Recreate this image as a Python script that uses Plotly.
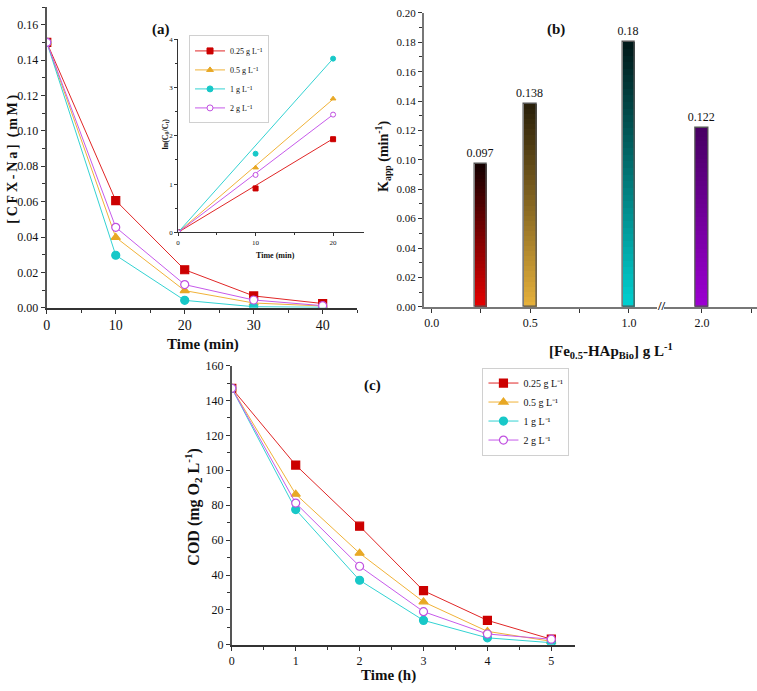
import plotly.graph_objects as go

W, H = 757, 691
FONT = "Liberation Serif"

# ---------------- data ----------------
# (a) CFX-Na concentration vs time
time_a = [0, 10, 20, 30, 40]
conc_025 = [0.150, 0.0606, 0.0215, 0.0067, 0.0024]
conc_05 = [0.150, 0.0398, 0.0097, 0.0027, 0.0010]
conc_1 = [0.150, 0.0297, 0.0042, 0.0006, 0.0003]
conc_2 = [0.150, 0.0455, 0.0131, 0.0044, 0.0012]

# (a) inset: ln(C0/Ct) vs time
time_inset = [0, 10, 20]
ln_025 = [0, 0.91, 1.93]
ln_05 = [0, 1.34, 2.77]
ln_1 = [0, 1.63, 3.60]
ln_2 = [0, 1.19, 2.44]
fit_time = [0, 20]

# (b) apparent rate constants
dose = [0.25, 0.5, 1.0, 2.0]
kapp = [0.097, 0.138, 0.18, 0.122]

# (c) COD vs time
time_c = [0, 1, 2, 3, 4, 5]
cod_025 = [147, 103, 68, 31, 14, 3.2]
cod_05 = [147, 86.3, 52.5, 24.6, 7.7, 2.0]
cod_1 = [147, 77.5, 37, 14, 4, 1.2]
cod_2 = [147, 81.2, 45, 19, 6.2, 3.2]

series_names = ["0.25 g L\u207b\u00b9", "0.5 g L\u207b\u00b9", "1 g L\u207b\u00b9", "2 g L\u207b\u00b9"]

# ---------------- styles ----------------
line_cols = ["#E02626", "#F0B238", "#33D2D2", "#C65AEA"]
fill_cols = ["#CC0000", "#E8A825", "#18C8C8", "#FFFFFF"]
edge_cols = ["#CC0000", "#E8A825", "#18C8C8", "#C050E0"]
symbols = ["square", "triangle-up", "circle", "circle"]
bar_top = [(22, 0, 0), (42, 32, 10), (0, 26, 26), (72, 0, 100)]
bar_bot = [(232, 0, 0), (234, 180, 60), (0, 212, 212), (158, 0, 212)]


def px(x):
    return x / W


def py(y):
    return 1 - y / H


fig = go.Figure()

conc = [conc_025, conc_05, conc_1, conc_2]
lns = [ln_025, ln_05, ln_1, ln_2]
cods = [cod_025, cod_05, cod_1, cod_2]

# (a) main
for i in range(4):
    fig.add_trace(go.Scatter(
        x=time_a, y=conc[i], mode="lines+markers", xaxis="x", yaxis="y",
        line=dict(color=line_cols[i], width=1),
        marker=dict(symbol=symbols[i], size=8, color=fill_cols[i],
                    line=dict(color=edge_cols[i], width=1.2)),
        showlegend=False, name=series_names[i]))

# (a) inset: fit lines + data markers + legend entries
for i in range(4):
    fig.add_trace(go.Scatter(
        x=fit_time, y=[kapp[i] * t for t in fit_time], mode="lines",
        xaxis="x2", yaxis="y2", line=dict(color=line_cols[i], width=1),
        showlegend=False, hoverinfo="skip"))
    fig.add_trace(go.Scatter(
        x=time_inset, y=lns[i], mode="markers", xaxis="x2", yaxis="y2",
        marker=dict(symbol=symbols[i], size=5, color=fill_cols[i],
                    line=dict(color=edge_cols[i], width=1)),
        showlegend=False, name=series_names[i]))
    fig.add_trace(go.Scatter(
        x=[None], y=[None], mode="lines+markers", xaxis="x2", yaxis="y2",
        line=dict(color=line_cols[i], width=1),
        marker=dict(symbol=symbols[i], size=6, color=fill_cols[i],
                    line=dict(color=edge_cols[i], width=1)),
        name=series_names[i], legend="legend"))

# (b) gradient bars (stacked overlays, tallest/darkest first)
N = 40
groups = [([0, 1, 2], "x3", "y3"), ([3], "x4", "y4")]
for idxs, xa, ya in groups:
    for j in range(N):
        frac = 1 - j / N
        cols = []
        for k in idxs:
            t = frac
            c = tuple(int(bar_bot[k][m] * (1 - t) + bar_top[k][m] * t) for m in range(3))
            cols.append("rgb(%d,%d,%d)" % c)
        fig.add_trace(go.Bar(
            x=[dose[k] for k in idxs], y=[kapp[k] * frac for k in idxs],
            width=0.062, xaxis=xa, yaxis=ya,
            marker=dict(color=cols, line=dict(width=0)),
            showlegend=False, hoverinfo="skip"))
    fig.add_trace(go.Bar(
        x=[dose[k] for k in idxs], y=[kapp[k] for k in idxs], width=0.062,
        xaxis=xa, yaxis=ya, text=[str(kapp[k]) for k in idxs],
        textposition="outside", cliponaxis=False, constraintext="none",
        textfont=dict(family=FONT, size=12, color="#111"),
        marker=dict(color="rgba(0,0,0,0)", line=dict(color="#555", width=1.3)),
        showlegend=False))

# (c)
for i in range(4):
    fig.add_trace(go.Scatter(
        x=time_c, y=cods[i], mode="lines+markers", xaxis="x5", yaxis="y5",
        line=dict(color=line_cols[i], width=1),
        marker=dict(symbol=symbols[i], size=8, color=fill_cols[i],
                    line=dict(color=edge_cols[i], width=1.2)),
        name=series_names[i], legend="legend2"))


def ax(size=13, **kw):
    d = dict(showgrid=False, zeroline=False, showline=True, linecolor="#333",
             linewidth=1.5, ticks="outside", ticklen=4, tickwidth=1,
             tickcolor="#333", tickfont=dict(family=FONT, size=size, color="#111"))
    d.update(kw)
    return d


fig.update_layout(
    width=W, height=H, autosize=False,
    margin=dict(l=0, r=0, t=0, b=0),
    paper_bgcolor="white", plot_bgcolor="rgba(0,0,0,0)",
    barmode="overlay", bargap=0,
    font=dict(family=FONT, color="#111"),
    # (a) main
    xaxis=ax(14, domain=[px(43), px(355)], anchor="y", range=[0, 45],
             tickvals=[0, 10, 20, 30, 40], minor=dict(dtick=5, ticks="outside", ticklen=3, tickcolor="#333")),
    yaxis=ax(12, domain=[py(307), 1], anchor="x", range=[0, 0.17],
             dtick=0.02, tickformat=".2f", linecolor="#555", linewidth=2,
             minor=dict(dtick=0.01, ticks="outside", ticklen=2.5, tickcolor="#333")),
    # inset
    xaxis2=ax(7, domain=[px(175), px(362)], anchor="y2", range=[0, 24],
              tickvals=[0, 10, 20], linewidth=1, ticklen=3,
              minor=dict(dtick=5, ticks="outside", ticklen=2, tickcolor="#333")),
    yaxis2=ax(7, domain=[py(230), py(33)], anchor="x2", range=[0, 4],
              dtick=1, linewidth=1, ticklen=3,
              minor=dict(dtick=0.5, ticks="outside", ticklen=2, tickcolor="#333")),
    # (b) left segment
    xaxis3=ax(12, domain=[px(422), px(656)], anchor="y3", range=[-0.04, 1.14],
              tickvals=[0, 0.25, 0.5, 0.75, 1.0], ticktext=["0.0", "", "0.5", "", "1.0"],
              linecolor="#777", linewidth=1.8),
    yaxis3=ax(11, domain=[py(306), py(6)], anchor="x3", range=[0, 0.2],
              dtick=0.02, tickformat=".2f", linecolor="#777", linewidth=1.8,
              minor=dict(dtick=0.01, ticks="outside", ticklen=2.5, tickcolor="#333")),
    # (b) right segment after break
    xaxis4=ax(12, domain=[px(664), px(757)], anchor="y4", range=[1.81, 2.28],
              tickvals=[2.0, 2.25], ticktext=["2.0", ""],
              linecolor="#777", linewidth=1.8),
    yaxis4=dict(domain=[py(306), py(6)], anchor="x4", range=[0, 0.2],
                visible=False, showgrid=False, zeroline=False),
    # (c)
    xaxis5=ax(12, domain=[px(229), px(574)], anchor="y5", range=[0, 5.37],
              dtick=1, minor=dict(dtick=0.5, ticks="outside", ticklen=3, tickcolor="#333")),
    yaxis5=ax(12, domain=[py(651), py(366)], anchor="x5", range=[0, 160],
              dtick=20, linecolor="#555", linewidth=2,
              minor=dict(dtick=10, ticks="outside", ticklen=2.5, tickcolor="#333")),
    legend=dict(x=px(186), y=py(29), xanchor="left", yanchor="top",
                bgcolor="rgba(255,255,255,0.9)", bordercolor="#d0d0d0", borderwidth=1,
                font=dict(family=FONT, size=8, color="#111"), tracegroupgap=0,
                itemwidth=30),
    legend2=dict(x=px(481), y=py(368), xanchor="left", yanchor="top",
                 bgcolor="white", bordercolor="#d0d0d0", borderwidth=1,
                 font=dict(family=FONT, size=10, color="#111"), tracegroupgap=0,
                 itemwidth=30),
)


def note(text, x, y, size, angle=0, bold=True):
    fig.add_annotation(
        text="<b>%s</b>" % text if bold else text, x=px(x), y=py(y),
        xref="paper", yref="paper", xanchor="center", yanchor="middle",
        showarrow=False, textangle=angle,
        font=dict(family=FONT, size=size, color="#111"))


ts = "\u2009"
note(ts.join("[CFX-Na]") + "  " + ts.join("(mM)"), 9, 155, 14, -90)
note("Time (min)", 200, 344, 15)
note("(a)", 158, 23, 15)
note("ln(C<sub>0</sub>/C<sub>t</sub>)", 163, 130, 8, -90)
note("Time (min)", 273, 254, 8)
note("K<sub>app</sub> (min<sup>-1</sup>)", 381, 152, 14, -90)
note("[Fe<sub>0.5</sub>-HAp<sub>Bio</sub>] g L<sup>-1</sup>", 610, 351, 15)
note("(b)", 555, 23, 15)
note("//", 661, 305, 13)
note("COD (mg O<sub>2</sub> L<sup>-1</sup>)", 190, 510, 16, -90)
note("Time (h)", 387, 682, 15)
note("(c)", 370, 386, 15)

fig.write_html("out.html")
